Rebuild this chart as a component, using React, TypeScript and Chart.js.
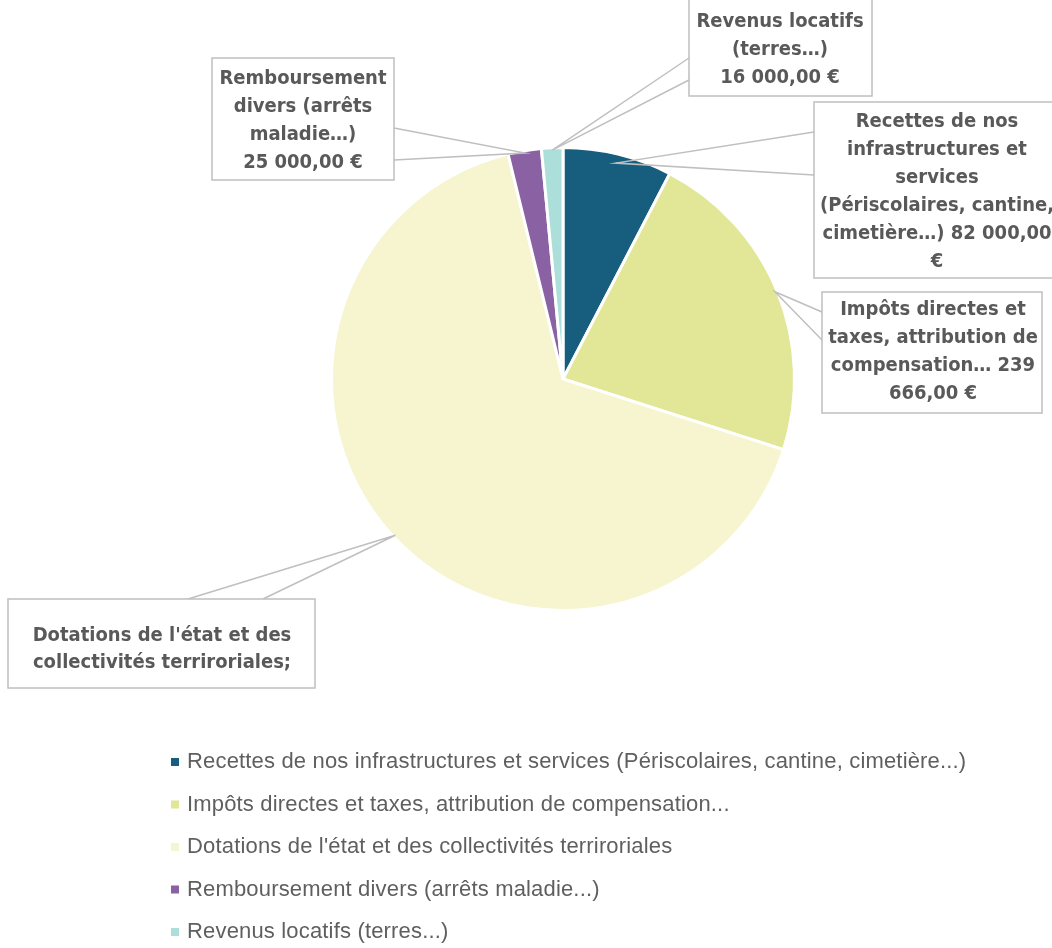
import React, { useEffect, useRef } from "react";
import { Chart, registerables } from "chart.js";

Chart.register(...registerables);

const categories = [
  "Recettes de nos infrastructures et services (Périscolaires, cantine, cimetière...)",
  "Impôts directes et taxes, attribution de compensation...",
  "Dotations de l'état et des collectivités terriroriales",
  "Remboursement divers (arrêts maladie...)",
  "Revenus locatifs (terres...)",
];
const values = [82000, 239666, 712000, 25000, 16000];
const colors = ["#175e7e", "#e1e796", "#f6f5cf", "#8a62a3", "#acdfda"];
const calloutLines = [
  ["Recettes de nos", "infrastructures et", "services", "(Périscolaires, cantine,", "cimetière…) 82 000,00", "€"],
  ["Impôts directes et", "taxes, attribution de", "compensation… 239", "666,00 €"],
  ["Dotations de l'état et des", "collectivités terriroriales;"],
  ["Remboursement", "divers (arrêts", "maladie…)", "25 000,00 €"],
  ["Revenus locatifs", "(terres…)", "16 000,00 €"],
];

// layout of callout boxes (annotation positions, not data)
const calloutLayout = [
  { x: 814, y: 102, w: 240, h: 176, wedge: [[814, 132], [814, 175]], rf: 0.96, cx: 937, y0: 122, lh: 28 },
  { x: 822, y: 292, w: 220, h: 121, wedge: [[822, 312], [822, 340]], rf: 0.99, cx: 933, y0: 310, lh: 28 },
  { x: 8, y: 599, w: 307, h: 89, wedge: [[188, 599], [263, 599]], rf: 0.99, cx: 162, y0: 636, lh: 27 },
  { x: 212, y: 58, w: 182, h: 122, wedge: [[394, 128], [394, 160]], rf: 0.99, cx: 303, y0: 79, lh: 28 },
  { x: 689, y: -5, w: 183, h: 101, wedge: [[689, 58], [689, 80]], rf: 0.99, cx: 780, y0: 22, lh: 28 },
];

const legendLayout = { boxX: 171, boxSize: 8, textX: 187, baseline0: 768, gap: 42.5 };

const calloutPlugin = {
  id: "callouts",
  afterDraw(chart: any) {
    const ctx = chart.ctx as CanvasRenderingContext2D;
    const meta = chart.getDatasetMeta(0);
    ctx.save();
    meta.data.forEach((arc: any, i: number) => {
      const L = calloutLayout[i];
      const mid = (arc.startAngle + arc.endAngle) / 2;
      const ax = arc.x + Math.cos(mid) * arc.outerRadius * L.rf;
      const ay = arc.y + Math.sin(mid) * arc.outerRadius * L.rf;
      ctx.strokeStyle = "#bfbfbf";
      ctx.lineWidth = 1.5;
      ctx.beginPath();
      ctx.moveTo(L.wedge[0][0], L.wedge[0][1]);
      ctx.lineTo(ax, ay);
      ctx.lineTo(L.wedge[1][0], L.wedge[1][1]);
      ctx.stroke();
      ctx.fillStyle = "#ffffff";
      ctx.fillRect(L.x, L.y, L.w, L.h);
      ctx.strokeRect(L.x, L.y, L.w, L.h);
      ctx.fillStyle = "#595959";
      ctx.font = 'bold 20px "Liberation Sans Narrow", "DejaVu Sans Condensed", "Roboto", sans-serif';
      ctx.textAlign = "center";
      ctx.textBaseline = "middle";
      calloutLines[i].forEach((t, j) => {
        ctx.fillText(t, L.cx, L.y0 + j * L.lh);
      });
    });
    // legend
    ctx.textAlign = "left";
    ctx.textBaseline = "alphabetic";
    ctx.font = '22px "Liberation Sans", "Roboto", sans-serif';
    (ctx as any).letterSpacing = "0.17px";
    categories.forEach((c, i) => {
      const yb = legendLayout.baseline0 + i * legendLayout.gap;
      const yc = yb - 6;
      ctx.fillStyle = colors[i];
      ctx.fillRect(legendLayout.boxX, yc - legendLayout.boxSize / 2, legendLayout.boxSize, legendLayout.boxSize);
      ctx.fillStyle = "#5f5f5f";
      ctx.fillText(c, legendLayout.textX, yb);
    });
    (ctx as any).letterSpacing = "0px";
    ctx.restore();
  },
};

export default function App() {
  const ref = useRef<HTMLCanvasElement | null>(null);
  useEffect(() => {
    document.body.style.margin = "0";
    const chart = new Chart(ref.current as HTMLCanvasElement, {
      type: "pie",
      data: {
        labels: categories,
        datasets: [
          {
            data: values,
            backgroundColor: colors,
            borderColor: "#ffffff",
            borderWidth: 3,
          },
        ],
      },
      options: {
        responsive: false,
        animation: false,
        layout: { padding: { left: 330, right: 256, top: 146, bottom: 336 } },
        plugins: {
          legend: { display: false },
          tooltip: { enabled: false },
        },
      },
      plugins: [calloutPlugin],
    });
    return () => chart.destroy();
  }, []);
  return (
    <div style={{ width: 1052, height: 948, background: "#ffffff" }}>
      <canvas ref={ref} width={1052} height={948} style={{ display: "block" }} />
    </div>
  );
}
